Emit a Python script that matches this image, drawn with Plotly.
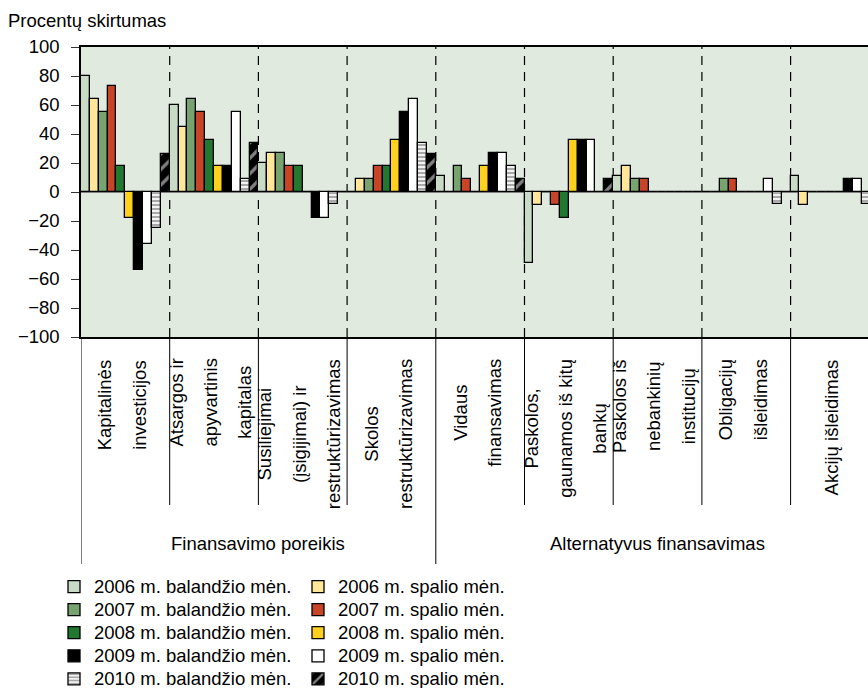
import plotly.graph_objects as go

# ---- data -------------------------------------------------------------
category_lines = [
    ["Kapitalinės", "investicijos"],
    ["Atsargos ir", "apyvartinis", "kapitalas"],
    ["Susiliejimai", "(įsigijimai) ir", "restruktūrizavimas"],
    ["Skolos", "restruktūrizavimas"],
    ["Vidaus", "finansavimas"],
    ["Paskolos,", "gaunamos iš kitų", "bankų"],
    ["Paskolos iš", "nebankinių", "institucijų"],
    ["Obligacijų", "išleidimas"],
    ["Akcijų išleidimas"],
]
categories = [" ".join(lines) for lines in category_lines]

group_names = ["Finansavimo poreikis", "Alternatyvus finansavimas"]
group_sizes = [4, 5]

series_names = [
    "2006 m. balandžio mėn.", "2006 m. spalio mėn.",
    "2007 m. balandžio mėn.", "2007 m. spalio mėn.",
    "2008 m. balandžio mėn.", "2008 m. spalio mėn.",
    "2009 m. balandžio mėn.", "2009 m. spalio mėn.",
    "2010 m. balandžio mėn.", "2010 m. spalio mėn.",
]

apr06 = [80, 60, 20, 0, 11, -49, 11, 0, 11]
oct06 = [64, 45, 27, 9, 0, -9, 18, 0, -9]
apr07 = [55, 64, 27, 9, 18, 0, 9, 9, 0]
oct07 = [73, 55, 18, 18, 9, -9, 9, 9, 0]
apr08 = [18, 36, 18, 18, 0, -18, 0, 0, 0]
oct08 = [-18, 18, 0, 36, 18, 36, 0, 0, 0]
apr09 = [-54, 18, -18, 55, 27, 36, 0, 0, 9]
oct09 = [-36, 55, -18, 64, 27, 36, 0, 9, 9]
apr10 = [-25, 9, -8, 34, 18, 0, 0, -8, -8]
oct10 = [26, 34, 0, 26, 9, 9, 0, 0, 0]
series_values = [apr06, oct06, apr07, oct07, apr08, oct08, apr09, oct09, apr10, oct10]

y_ticks = [-100, -80, -60, -40, -20, 0, 20, 40, 60, 80, 100]

# ---- styling ----------------------------------------------------------
FONT = "Liberation Sans, Arial, sans-serif"
FS = 18.5
W, H = 868, 688
M_L, M_R, M_T, M_B = 81, 0, 47, 351
PLOT_W = W - M_L - M_R
PLOT_H = H - M_T - M_B
CAT_PX = 88.7  # pixel width of one category slot

colors = ["#C8DBC5", "#FFE699", "#77A36F", "#C84427", "#22782E",
          "#FFD01E", "#000000", "#FFFFFF", "#F2F2F2", "#000000"]
patterns = [None] * 8 + [
    dict(shape="-", fgcolor="#5E5E5E", bgcolor="#F2F2F2", size=4, solidity=0.5),
    dict(shape="/", fgcolor="#FFFFFF", bgcolor="#000000", size=11, solidity=0.3),
]


def paper_x(px):
    return (px - M_L) / PLOT_W


def paper_y(py):
    return (H - M_B - py) / PLOT_H


def cont_x(px):
    return px / W


def cont_y(py):
    return 1 - py / H


fig = go.Figure()
for i, (name, vals) in enumerate(zip(series_names, series_values)):
    marker = dict(color=colors[i], line=dict(color="black", width=1.3))
    if patterns[i]:
        marker["pattern"] = patterns[i]
    fig.add_trace(go.Bar(
        x=categories, y=vals,
        name=f'<span style="font-size:{FS}px">{name}</span>',
        marker=marker,
        legend="legend" if i % 2 == 0 else "legend2",
        hoverinfo="skip",
    ))

n_cat = len(categories)
x_max = -0.5 + PLOT_W / CAT_PX

shapes = []
# dashed separators inside the plot
for k in range(n_cat - 1):
    shapes.append(dict(type="line", xref="x", yref="paper", x0=k + 0.5, x1=k + 0.5,
                       y0=0, y1=1, layer="below",
                       line=dict(color="black", width=1.2, dash="9px,7px")))
# solid separators under the axis
group_edges = [-0.5]
for s in group_sizes:
    group_edges.append(group_edges[-1] + s)
for k in range(n_cat + 1):
    edge = k - 0.5
    bottom = paper_y(564) if edge in group_edges else paper_y(505)
    shapes.append(dict(type="line", xref="x", yref="paper", x0=edge, x1=edge,
                       y0=0, y1=bottom, line=dict(color="black", width=1)))

annotations = []
LINE_PITCH_FONT = 26.4  # 1.3 em of this size gives the wide line pitch
for i, lines in enumerate(category_lines):
    text = "<br>".join(f'<span style="font-size:{FS}px">{ln}</span>' for ln in lines)
    annotations.append(dict(
        x=i, xref="x", y=paper_y(357), yref="paper", xanchor="center", yanchor="top",
        text=text, textangle=-90, align="center", showarrow=False, xshift=-3.5,
        font=dict(family=FONT, size=LINE_PITCH_FONT, color="black"),
    ))
for name, lo, hi in zip(group_names, group_edges[:-1], group_edges[1:]):
    annotations.append(dict(
        x=(lo + hi) / 2, xref="x", y=paper_y(543), yref="paper",
        xanchor="center", yanchor="middle", text=name, showarrow=False,
        font=dict(family=FONT, size=FS, color="black"),
    ))

legend_common = dict(
    xref="paper", yref="paper", xanchor="left", yanchor="top",
    orientation="v", bgcolor="rgba(0,0,0,0)", borderwidth=0,
    font=dict(family=FONT, size=15.45, color="black"), tracegroupgap=0,
    itemclick=False, itemdoubleclick=False,
)

fig.update_layout(
    width=W, height=H,
    margin=dict(l=M_L, r=M_R, t=M_T, b=M_B, pad=0, autoexpand=False),
    paper_bgcolor="white", plot_bgcolor="#E1EADF",
    barmode="group", bargap=0, bargroupgap=0,
    font=dict(family=FONT, size=FS, color="black"),
    title=dict(text="Procentų skirtumas", x=cont_x(8), xref="container", xanchor="left",
               y=cont_y(21), yref="container", yanchor="middle",
               font=dict(family=FONT, size=FS, color="black")),
    xaxis=dict(type="category", range=[-0.5, x_max], showticklabels=False, ticks="",
               showgrid=False, zeroline=False, showline=True, mirror=True,
               linecolor="black", linewidth=2, fixedrange=True),
    yaxis=dict(range=[-100, 100], tickvals=y_ticks, ticks="outside", ticklen=8,
               tickwidth=1.3, tickcolor="#333333", showgrid=False,
               zeroline=True, zerolinecolor="#808080", zerolinewidth=1.5,
               showline=True, linecolor="black", linewidth=1.5, ticklabelstandoff=8,
               tickfont=dict(family=FONT, size=FS, color="black"), fixedrange=True),
    legend=dict(x=paper_x(54), y=paper_y(570), **legend_common),
    legend2=dict(x=paper_x(298), y=paper_y(570), **legend_common),
    shapes=shapes,
    annotations=annotations,
    showlegend=True,
)

fig.write_html("out.html")
